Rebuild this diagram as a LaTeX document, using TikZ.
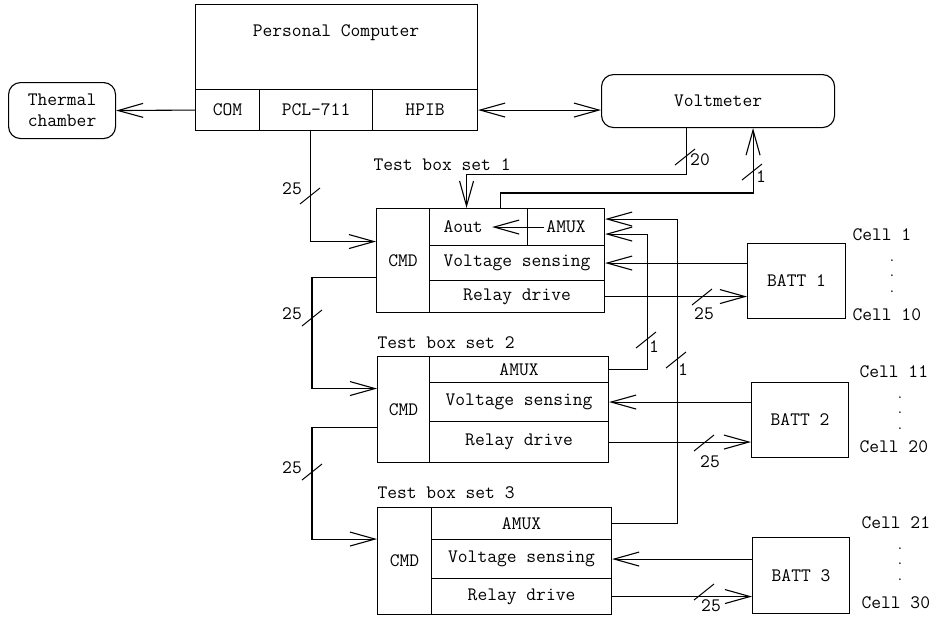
\documentclass[tikz,border=0pt]{standalone}
\usepackage{fontspec}
\usetikzlibrary{arrows.meta}

\begin{document}
\begin{tikzpicture}[
  x=1pt, y=-1pt,
  line width=1.1pt,
  >={Straight Barb[length=25pt,width=14pt]},
  every node/.style={font=\ttfamily\fontsize{19}{21}\selectfont, inner sep=0pt},
  cell/.style={
    draw,
    rectangle,
    anchor=north west,
    align=center
  },
  rbox/.style={
    draw,
    rectangle,
    rounded corners=12pt,
    anchor=north west,
    align=center
  },
  link/.style={draw, ->},
  busmark/.style={draw, line width=1pt},
  dotcol/.style={align=center, font=\ttfamily\bfseries\fontsize{12}{15.5}\selectfont}
]
\useasboundingbox (0,0) rectangle (942,624);

% computer and instruments
\node[rbox, minimum width=107pt, minimum height=56pt] (thermal) at (8,82) {Thermal\\chamber};
\node[cell, minimum width=282pt, minimum height=85pt] (pc) at (195,4) {};
\node (pctext) at (336,33) {Personal Computer};
\node[cell, minimum width=64pt, minimum height=41pt] (com) at (195,89) {COM};
\node[cell, minimum width=113pt, minimum height=41pt] (pcl) at (259,89) {PCL-711};
\node[cell, minimum width=105pt, minimum height=41pt] (hpib) at (372,89) {HPIB};
\node[rbox, minimum width=233pt, minimum height=53pt] (volt) at (601,74) {Voltmeter};

% test box set 1
\node[anchor=west] (set1) at (373,165) {Test box set 1};
\node[cell, minimum width=53pt, minimum height=104pt] (cmd1) at (376,208) {CMD};
\node[cell, minimum width=98pt, minimum height=37pt, text width=70pt, align=left] (aout1) at (429,208) {Aout};
\node[cell, minimum width=77pt, minimum height=37pt] (amux1) at (527,208) {AMUX};
\node[cell, minimum width=175pt, minimum height=35pt] (vs1) at (429,245) {Voltage sensing};
\node[cell, minimum width=175pt, minimum height=32pt] (rd1) at (429,280) {Relay drive};

% test box set 2
\node[anchor=west] (set2) at (377,343) {Test box set 2};
\node[cell, minimum width=52pt, minimum height=106pt] (cmd2) at (377,356) {CMD};
\node[cell, minimum width=179pt, minimum height=26pt] (amux2) at (429,356) {AMUX};
\node[cell, minimum width=179pt, minimum height=39pt] (vs2) at (429,382) {Voltage sensing};
\node[cell, minimum width=179pt, minimum height=41pt] (rd2) at (429,421) {Relay drive};

% test box set 3
\node[anchor=west] (set3) at (377,493) {Test box set 3};
\node[cell, minimum width=54pt, minimum height=107pt] (cmd3) at (377,507) {CMD};
\node[cell, minimum width=180pt, minimum height=32pt] (amux3) at (431,507) {AMUX};
\node[cell, minimum width=180pt, minimum height=39pt] (vs3) at (431,539) {Voltage sensing};
\node[cell, minimum width=180pt, minimum height=36pt] (rd3) at (431,578) {Relay drive};

% batteries
\node[cell, minimum width=98pt, minimum height=75pt] (batt1) at (747,243) {BATT 1};
\node[cell, minimum width=97pt, minimum height=75pt] (batt2) at (751,382) {BATT 2};
\node[cell, minimum width=97pt, minimum height=76pt] (batt3) at (752,537) {BATT 3};

\node[anchor=west] (c1) at (852,235) {Cell 1};
\node[dotcol] (dots1) at (892,276) {.\\.\\.};
\node[anchor=west] (c10) at (852,315) {Cell 10};
\node[anchor=west] (c11) at (859,372) {Cell 11};
\node[dotcol] (dots2) at (900,413) {.\\.\\.};
\node[anchor=west] (c20) at (859,447) {Cell 20};
\node[anchor=west] (c21) at (861,523) {Cell 21};
\node[dotcol] (dots3) at (900,564) {.\\.\\.};
\node[anchor=west] (c30) at (861,603) {Cell 30};

% connections
\draw[link] (com.west) -- (thermal.east);
\draw[<->] (hpib.east) -- (hpib.east -| volt.west);
\draw[link] ([xshift=-6pt]pcl.south) |- ([yshift=19pt]cmd1.west);
\draw[link] ([yshift=-17pt]cmd1.west) -- ++(-64,0) |- ([yshift=21pt]cmd2.west);
\draw[link] ([yshift=-18pt]cmd2.west) -- ++(-65,0) |- ([yshift=22pt]cmd3.west);

\draw[link] ([xshift=-32pt]volt.south) -- ++(0,46) -| ([xshift=-12pt]aout1.north);
\draw[link] ([xshift=22pt]aout1.north) -- ++(0,-15) -| ([xshift=35pt]volt.south);
\draw[link] ([xshift=17pt]amux1.west) -- ([xshift=-36pt]aout1.east);

\draw[link] (amux2.east) -- ++(38,0) |- ([yshift=-7pt]amux1.east);
\draw[link] (amux3.east) -- ++(65,0) |- ([yshift=8pt]amux1.east);

\draw[link] (batt1.west |- vs1.east) -- (vs1.east);
\draw[link] (rd1.east) -- (rd1.east -| batt1.west);
\draw[link] (batt2.west |- vs2.east) -- (vs2.east);
\draw[link] (rd2.east) -- (rd2.east -| batt2.west);
\draw[link] (batt3.west |- vs3.east) -- (vs3.east);
\draw[link] (rd3.east) -- (rd3.east -| batt3.west);

% bus widths
\foreach \sx/\sy/\lx/\ly/\w [count=\i] in {310/196/292/189/25, 312/318/292/314/25,
    312/472/292/468/25, 685/157/700/160/20, 752/172/761/177/1, 646/340/654/347/1,
    676/360/683/370/1, 702/297/704/314/25, 704/443/710/462/25, 704/592/711/606/25} {
  \draw[busmark] (\sx-10,\sy+8) -- ++(20,-16);
  \node (bus\i) at (\lx,\ly) {\w};
}

\end{tikzpicture}
\end{document}
